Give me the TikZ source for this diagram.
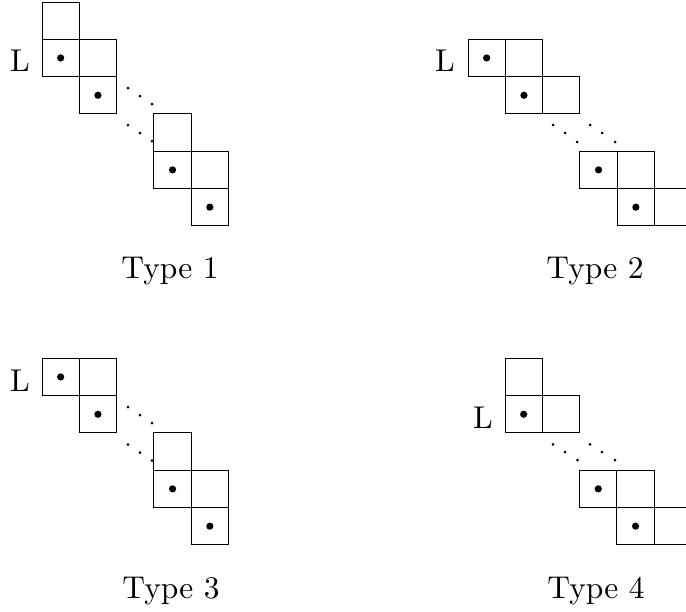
\documentclass[tikz,border=0pt]{standalone}
\usepackage{fontspec}
\setmainfont{lmroman10-regular}[Extension=.otf]
\begin{document}
\begin{tikzpicture}[x=1pt,y=-1pt,
  cellbox/.style={draw,line width=0.9pt,minimum size=37.3pt,inner sep=0pt,outer sep=0pt,anchor=north west},
  lbl/.style={font=\fontsize{31.5}{36}\selectfont,inner sep=0pt,anchor=base},
  bigdot/.style={fill=black},
  smalldot/.style={fill=black}]
\clip (0,0) rectangle (686,611);
\useasboundingbox (0,0) rectangle (686,611);
% Type 1
\node[cellbox] (a1) at (42,2) {};
\node[cellbox] (a2) at (42,39.3) {};
\node[cellbox] (a3) at (79.3,39.3) {};
\node[cellbox] (a4) at (79.3,76.6) {};
\node[cellbox] (a5) at (153.9,113.9) {};
\node[cellbox] (a6) at (153.9,151.2) {};
\node[cellbox] (a7) at (191.2,151.2) {};
\node[cellbox] (a8) at (191.2,188.5) {};
\foreach \c in {a2,a4,a6,a8} \fill[bigdot] (\c) circle (3.6);
\foreach \p in {(128,88),(140,96),(152,104),(128,125),(140,133),(152,141)} \fill[smalldot] \p circle (1.5);
\node[lbl] (La) at (20,71) {L};
\node[lbl] (ta) at (170,278) {Type 1};
% Type 2
\node[cellbox] (b1) at (468,39.3) {};
\node[cellbox] (b2) at (505.3,39.3) {};
\node[cellbox] (b3) at (505.3,76.6) {};
\node[cellbox] (b4) at (542.6,76.6) {};
\node[cellbox] (b5) at (579.9,151.2) {};
\node[cellbox] (b6) at (617.2,151.2) {};
\node[cellbox] (b7) at (617.2,188.5) {};
\node[cellbox] (b8) at (654.5,188.5) {};
\foreach \c in {b1,b3,b5,b7} \fill[bigdot] (\c) circle (3.6);
\foreach \p in {(553,125),(565,133),(577,142),(590,125),(602,133),(615,142)} \fill[smalldot] \p circle (1.5);
\node[lbl] (Lb) at (445,71) {L};
\node[lbl] (tb) at (595,278) {Type 2};
% Type 3
\node[cellbox] (c1) at (42,358.3) {};
\node[cellbox] (c2) at (79.3,358.3) {};
\node[cellbox] (c3) at (79.3,395.6) {};
\node[cellbox] (c4) at (153.9,432.9) {};
\node[cellbox] (c5) at (153.9,470.2) {};
\node[cellbox] (c6) at (191.2,470.2) {};
\node[cellbox] (c7) at (191.2,507.5) {};
\foreach \c in {c1,c3,c5,c7} \fill[bigdot] (\c) circle (3.6);
\foreach \p in {(128,407),(140,415),(152,423),(128,444.5),(140,452.5),(152,460.5)} \fill[smalldot] \p circle (1.5);
\node[lbl] (Lc) at (20,391) {L};
\node[lbl] (tc) at (171,598) {Type 3};
% Type 4
\node[cellbox] (d1) at (505,358.3) {};
\node[cellbox] (d2) at (505,395.6) {};
\node[cellbox] (d3) at (542.3,395.6) {};
\node[cellbox] (d4) at (579.6,470.2) {};
\node[cellbox] (d5) at (616.9,470.2) {};
\node[cellbox] (d6) at (616.9,507.5) {};
\node[cellbox] (d7) at (654.2,507.5) {};
\foreach \c in {d2,d4,d6} \fill[bigdot] (\c) circle (3.6);
\foreach \p in {(553,444.3),(565,452),(577.5,460),(590,444.3),(602,452),(615,460)} \fill[smalldot] \p circle (1.5);
\node[lbl] (Ld) at (483,428) {L};
\node[lbl] (td) at (596,598) {Type 4};
\end{tikzpicture}
\end{document}
